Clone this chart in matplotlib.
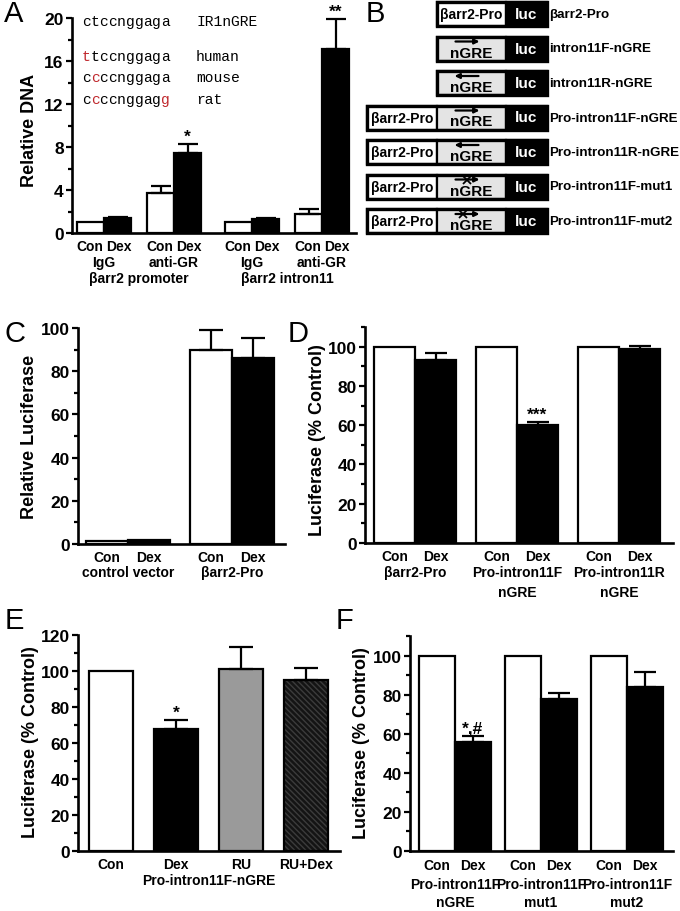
import matplotlib
matplotlib.use('Agg')
import matplotlib.pyplot as plt
import numpy as np
from matplotlib.patches import Rectangle
from matplotlib.transforms import blended_transform_factory
from matplotlib.ticker import MultipleLocator

W, H = 680, 912
plt.rcParams['font.family'] = ['Liberation Sans', 'DejaVu Sans']
plt.rcParams['font.weight'] = 'bold'

# ---------------- Data ----------------
# Panel A (ChIP)
a_sets = ['βarr2 promoter', 'βarr2 intron11']
a_ab = ['IgG', 'anti-GR']
a_con = [1.0, 3.7, 1.0, 1.8]
a_con_err = [0.0, 0.7, 0.0, 0.4]
a_dex = [1.4, 7.4, 1.3, 17.1]
a_dex_err = [0.1, 0.9, 0.1, 2.8]
a_sig = ['', '*', '', '**']
seq_motifs = ['ctccnggaga', 'ttccnggaga', 'ccccnggaga', 'ccccnggagg']
seq_names = ['IR1nGRE', 'human', 'mouse', 'rat']
seq_red = [[], [0], [1], [1, 9]]

# Panel B (constructs)
b_names = ['βarr2-Pro', 'intron11F-nGRE', 'intron11R-nGRE', 'Pro-intron11F-nGRE',
           'Pro-intron11R-nGRE', 'Pro-intron11F-mut1', 'Pro-intron11F-mut2']
b_pro = [True, False, False, True, True, True, True]
b_ngre = [None, 'F', 'R', 'F', 'R', 'mut1', 'mut2']

# Panel C
c_groups = ['control vector', 'βarr2-Pro']
c_con = [1.2, 90]
c_con_err = [0, 9]
c_dex = [1.8, 86]
c_dex_err = [0, 9.5]

# Panel D
d_groups = ['βarr2-Pro', 'Pro-intron11F\nnGRE', 'Pro-intron11R\nnGRE']
d_con = [100, 100, 100]
d_dex = [93, 60, 99]
d_dex_err = [4, 1.5, 1.5]
d_sig = ['', '***', '']

# Panel E
e_labels = ['Con', 'Dex', 'RU', 'RU+Dex']
e_vals = [100, 68, 101, 95]
e_err = [0, 5, 12.5, 6.5]
e_sig = ['', '*', '', '']
e_group = 'Pro-intron11F-nGRE'

# Panel F
f_groups = ['Pro-intron11F\nnGRE', 'Pro-intron11F\nmut1', 'Pro-intron11F\nmut2']
f_con = [100, 100, 100]
f_dex = [56, 78, 84]
f_dex_err = [3, 3, 7.5]
f_sig = ['*,#', '', '']

# ---------------- Figure ----------------
fig = plt.figure(figsize=(W / 100, H / 100), dpi=100)
ov = fig.add_axes([0, 0, 1, 1])
ov.set_xlim(0, W)
ov.set_ylim(H, 0)
ov.axis('off')

LW = 1.6
XLAB_FS = 10
TICK_FS = 12.5


def px_axes(x0, y0, x1, y1):
    return fig.add_axes([x0 / W, 1 - y1 / H, (x1 - x0) / W, (y1 - y0) / H])


def style(ax, top, major, minor, width):
    for s in ['top', 'right']:
        ax.spines[s].set_visible(False)
    ax.spines['left'].set_linewidth(1.9)
    ax.spines['bottom'].set_linewidth(1.9)
    ax.set_xlim(0, width)
    ax.set_ylim(0, top)
    ticks = np.arange(0, top + 0.001, major)
    ax.set_yticks(ticks)
    ax.set_yticklabels([f'{t:g}' for t in ticks], fontweight='bold', fontsize=TICK_FS)
    ax.yaxis.set_minor_locator(MultipleLocator(minor))
    ax.tick_params(axis='y', which='major', length=4, width=1.6, pad=2)
    ax.tick_params(axis='y', which='minor', length=3, width=1.6)
    ax.tick_params(axis='x', bottom=False, labelbottom=False)
    ax.patch.set_alpha(0)


def xtext(ax, x, ypx, s, fs=XLAB_FS):
    tr = blended_transform_factory(ax.transData, fig.transFigure)
    ax.text(x, 1 - ypx / H, s, transform=tr, ha='center', va='center',
            fontsize=fs, fontweight='bold', clip_on=False)


def multiline(ax, x, y0, s, dy):
    for k, line in enumerate(s.split('\n')):
        xtext(ax, x, y0 + k * dy, line)


def ebar(ax, x, v, e, cap):
    if e > 0:
        ax.errorbar([x], [v], yerr=[[0], [e]], fmt='none', ecolor='k', elinewidth=LW,
                    capsize=cap, capthick=LW, zorder=3, clip_on=False)


def sig(ax, x, top, s, fs=12.5):
    if s:
        ax.annotate(s, (x, top), xytext=(0, 0), textcoords='offset points', ha='center',
                    va='bottom', fontsize=fs, fontweight='bold', annotation_clip=False)


def bar(ax, x, v, w, fc):
    ax.bar([x], [v], width=w, color=fc, edgecolor='k', linewidth=LW, zorder=2)


def ylab(x, y, s):
    ov.text(x, y, s, rotation=90, ha='center', va='center', fontsize=13,
            fontweight='bold')


# ---------- Panel A ----------
axA = px_axes(72, 19, 356, 234)
style(axA, 20, 4, 2, 284)
wA = 27
for i in range(4):
    s, g = divmod(i, 2)
    j = 32 + g * 70 + s * 148
    bar(axA, j - wA / 2, a_con[i], wA, 'white')
    bar(axA, j + wA / 2, a_dex[i], wA, 'black')
    ebar(axA, j - wA / 2, a_con[i], a_con_err[i], 7)
    ebar(axA, j + wA / 2, a_dex[i], a_dex_err[i], 7)
    sig(axA, j + wA / 2, a_dex[i] + a_dex_err[i], a_sig[i])
    xtext(axA, j - wA / 2 - 1, 247, 'Con')
    xtext(axA, j + wA / 2 + 1, 247, 'Dex')
    xtext(axA, j, 263, a_ab[g])
for s in range(2):
    jm = 32 + 35 + s * 148
    xtext(axA, jm, 279, a_sets[s])

ylab(30, 130, 'Relative DNA')
# sequence block
cw = 0.6 * 10.5 * 100 / 72
seq_y = [22, 57, 78, 100]
for r, (motif, name) in enumerate(zip(seq_motifs, seq_names)):
    for k, ch in enumerate(motif):
        ov.text(82 + k * cw, seq_y[r], ch, family='Liberation Mono', fontweight='normal',
                fontsize=10.5, ha='left', va='center',
                color='#c0282d' if k in seq_red[r] else 'black')
    ov.text(196, seq_y[r], name, family='Liberation Mono', fontweight='normal',
            fontsize=10.5, ha='left', va='center')

# ---------- Panel B ----------
row_top0, row_step, row_h = 3, 34.5, 24
xp, xn, xl, xe = 367, 437, 506, 547
mut_x = {'mut1': 467, 'mut2': 463}
for i, (name, pro, ng) in enumerate(zip(b_names, b_pro, b_ngre)):
    top = row_top0 + i * row_step
    if pro and ng:
        segs = [('pro', xp, xn), ('ngre', xn, xl)]
    elif pro:
        segs = [('pro', xn, xl)]
    else:
        segs = [('ngre', xn, xl)]
    segs.append(('luc', xl, xe))
    for kind, x0, x1 in segs:
        fc = {'pro': 'white', 'ngre': '#e4e4e4', 'luc': 'black'}[kind]
        ov.add_patch(Rectangle((x0, top), x1 - x0, row_h, facecolor=fc, edgecolor='k',
                               linewidth=1.6))
        cx = (x0 + x1) / 2
        if kind == 'pro':
            ov.text(cx, top + row_h / 2 + 0.5, 'βarr2-Pro', ha='center', va='center',
                    fontsize=10, fontweight='bold')
        elif kind == 'luc':
            ov.text(cx, top + row_h / 2, 'luc', ha='center', va='center', fontsize=11,
                    fontweight='bold', color='white')
        else:
            ov.text(cx, top + row_h / 2 + 4, 'nGRE', ha='center', va='center',
                    fontsize=11, fontweight='bold')
            ay = top + 5
            if ng == 'R':
                xy, xyt = (cx - 17, ay), (cx + 7, ay)
            else:
                xy, xyt = (cx + 8, ay), (cx - 16, ay)
            ov.annotate('', xy=xy, xytext=xyt,
                        arrowprops=dict(arrowstyle='-|>', lw=1.6, color='k',
                                        mutation_scale=7, shrinkA=0, shrinkB=0))
            if ng in mut_x:
                ov.plot([mut_x[ng]], [ay], marker='x', color='k', markersize=6, mew=1.3)
    x_start = segs[0][1]
    ov.add_patch(Rectangle((x_start, top), xe - x_start, row_h, facecolor='none',
                           edgecolor='k', linewidth=2.4))
    ov.text(549, top + row_h / 2, name, ha='left', va='center', fontsize=9.6,
            fontweight='bold')

# ---------- Panel C ----------
axC = px_axes(78, 329, 285, 545)
style(axC, 100, 20, 10, 207)
wC = 42
for g in range(2):
    j = 50 + g * 104
    bar(axC, j - wC / 2, c_con[g], wC, 'white')
    bar(axC, j + wC / 2, c_dex[g], wC, 'black')
    ebar(axC, j - wC / 2, c_con[g], c_con_err[g], 8.5)
    ebar(axC, j + wC / 2, c_dex[g], c_dex_err[g], 8.5)
    xtext(axC, j - wC / 2, 558, 'Con')
    xtext(axC, j + wC / 2, 558, 'Dex')
    xtext(axC, j, 573, c_groups[g])
ylab(30, 437, 'Relative Luciferase')

# ---------- Panel D ----------
axD = px_axes(365, 328, 673, 544)
style(axD, 110, 20, 10, 308)
wD = 41
for g in range(3):
    j = 50 + g * 102
    bar(axD, j - wD / 2, d_con[g], wD, 'white')
    bar(axD, j + wD / 2, d_dex[g], wD, 'black')
    ebar(axD, j + wD / 2, d_dex[g], d_dex_err[g], 8)
    sig(axD, j + wD / 2, d_dex[g] + d_dex_err[g], d_sig[g])
    xtext(axD, j - wD / 2, 557, 'Con')
    xtext(axD, j + wD / 2, 557, 'Dex')
    multiline(axD, j, 573, d_groups[g], 20)
ylab(318, 440, 'Luciferase (% Control)')

# ---------- Panel E ----------
axE = px_axes(78, 636, 340, 852)
style(axE, 120, 20, 10, 262)
wE = 44
e_fc = ['white', 'black', '#9a9a9a', '#141414']
for i in range(4):
    x = 33 + i * 65
    if i == 3:
        axE.bar([x], [e_vals[i]], width=wE, color=e_fc[i], edgecolor='#3c3c3c',
                linewidth=0, hatch='\\\\\\\\\\\\', zorder=2)
        axE.bar([x], [e_vals[i]], width=wE, color='none', edgecolor='k',
                linewidth=LW, zorder=2)
    else:
        bar(axE, x, e_vals[i], wE, e_fc[i])
    ebar(axE, x, e_vals[i], e_err[i], 8.5)
    sig(axE, x, e_vals[i] + e_err[i], e_sig[i])
    xtext(axE, x, 865, e_labels[i])
xtext(axE, 33 + 1.5 * 65, 881, e_group)
ylab(31, 742, 'Luciferase (% Control)')

# ---------- Panel F ----------
axF = px_axes(410, 637, 673, 852)
style(axF, 110, 20, 10, 263)
wF = 36
for g in range(3):
    j = 45 + g * 86
    bar(axF, j - wF / 2, f_con[g], wF, 'white')
    bar(axF, j + wF / 2, f_dex[g], wF, 'black')
    ebar(axF, j + wF / 2, f_dex[g], f_dex_err[g], 8)
    sig(axF, j + wF / 2, f_dex[g] + f_dex_err[g], f_sig[g])
    xtext(axF, j - wF / 2, 866, 'Con')
    xtext(axF, j + wF / 2, 866, 'Dex')
    multiline(axF, j, 885, f_groups[g], 18)
ylab(362, 743, 'Luciferase (% Control)')

# ---------- Panel letters ----------
for lab, x, y in [('A', 14, 14), ('B', 375, 14), ('C', 15, 334), ('D', 298, 334),
                  ('E', 14, 621), ('F', 345, 621)]:
    ov.text(x, y, lab, ha='center', va='center', fontsize=21, fontweight='normal')

fig.savefig('out.png', dpi=100)
